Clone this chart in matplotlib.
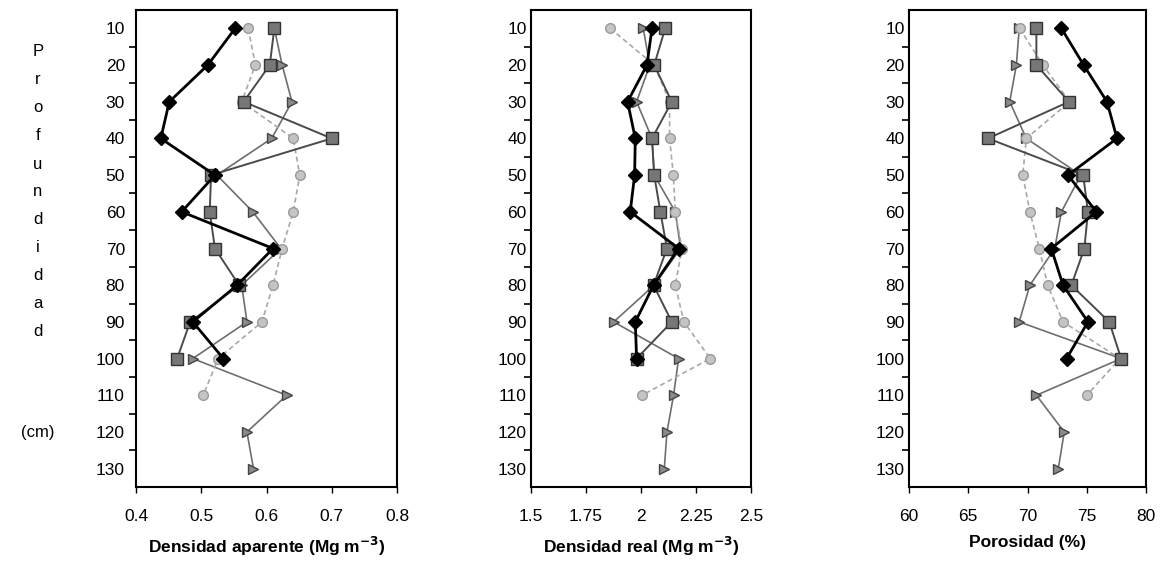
import matplotlib.pyplot as plt

plt.rcParams['font.family'] = ['Liberation Sans', 'DejaVu Sans']

depth = [10, 20, 30, 40, 50, 60, 70, 80, 90, 100, 110, 120, 130]

# Densidad aparente (Mg m-3)
da_diamond = [0.552, 0.510, 0.451, 0.438, 0.521, 0.470, 0.610, 0.555, 0.487, 0.534]
da_square = [0.612, 0.605, 0.565, 0.700, 0.515, 0.513, 0.521, 0.558, 0.483, 0.463]
da_circle = [0.572, 0.583, 0.562, 0.641, 0.651, 0.641, 0.624, 0.610, 0.593, 0.526, 0.503]
da_triangle = [0.612, 0.624, 0.639, 0.608, 0.524, 0.579, 0.622, 0.562, 0.570, 0.487, 0.631, 0.570, 0.580]

# Densidad real (Mg m-3)
dr_diamond = [2.05, 2.027, 1.939, 1.974, 1.971, 1.951, 2.171, 2.057, 1.974, 1.98]
dr_square = [2.11, 2.06, 2.14, 2.05, 2.06, 2.088, 2.118, 2.057, 2.14, 1.98]
dr_circle = [1.86, 2.06, 2.13, 2.13, 2.147, 2.156, 2.186, 2.156, 2.195, 2.315, 2.004]
dr_triangle = [2.01, 2.04, 1.98, 2.05, 2.06, 2.156, 2.18, 2.06, 1.876, 2.171, 2.148, 2.118, 2.106]

# Porosidad (%)
po_diamond = [72.86, 74.74, 76.71, 77.55, 73.42, 75.81, 72.01, 73.0, 75.1, 73.3]
po_square = [70.75, 70.75, 73.5, 66.67, 74.7, 75.1, 74.8, 73.7, 76.9, 77.9]
po_circle = [69.34, 71.3, 73.56, 69.9, 69.6, 70.2, 71.0, 71.7, 73.0, 77.8, 75.0]
po_triangle = [69.3, 69.06, 68.5, 69.9, 74.5, 72.86, 72.3, 70.2, 69.3, 77.9, 70.75, 73.1, 72.6]

panels = [
    (da_diamond, da_square, da_circle, da_triangle, (0.4, 0.8), [0.4, 0.5, 0.6, 0.7, 0.8],
     ['0.4', '0.5', '0.6', '0.7', '0.8'], 'Densidad aparente (Mg m$^{\\mathbf{-3}}$)'),
    (dr_diamond, dr_square, dr_circle, dr_triangle, (1.5, 2.5), [1.5, 1.75, 2.0, 2.25, 2.5],
     ['1.5', '1.75', '2', '2.25', '2.5'], 'Densidad real (Mg m$^{\\mathbf{-3}}$)'),
    (po_diamond, po_square, po_circle, po_triangle, (60, 80), [60, 65, 70, 75, 80],
     ['60', '65', '70', '75', '80'], 'Porosidad (%)'),
]

fig = plt.figure(figsize=(11.65, 5.66), dpi=100)
W, H = 1165, 566
boxes = [(136, 397), (531, 751), (909, 1146)]
ypads = [8, 3, 3]
top, bottom = 10, 487

for (x0, x1), ypad, (dia, sq, cir, tri, xlim, xt, xtl, xlabel) in zip(boxes, ypads, panels):
    ax = fig.add_axes([x0 / W, (H - bottom) / H, (x1 - x0) / W, (bottom - top) / H])
    ax.plot(tri, depth[:len(tri)], color='#6e6e6e', lw=1.2, marker='>', ms=7,
            mfc='#8a8a8a', mec='#444444', zorder=2)
    ax.plot(cir, depth[:len(cir)], color='#a8a8a8', lw=1.2, ls=(0, (3, 2)), marker='o', ms=7,
            mfc='#c4c4c4', mec='#9a9a9a', zorder=3)
    ax.plot(sq, depth[:len(sq)], color='#4a4a4a', lw=1.4, marker='s', ms=8,
            mfc='#777777', mec='#333333', zorder=4)
    ax.plot(dia, depth[:len(dia)], color='black', lw=2.0, marker='D', ms=7,
            mfc='black', mec='black', zorder=5)
    ax.set_xlim(*xlim)
    ax.set_ylim(135, 5)
    ax.set_xticks(xt)
    ax.set_xticklabels(xtl, fontsize=12.5)
    ax.set_yticks(depth)
    ax.set_yticklabels([str(d) for d in depth], fontsize=12.5)
    ax.set_yticks([15 + 10 * i for i in range(12)], minor=True)
    ax.tick_params(axis='y', which='major', length=0, pad=ypad)
    ax.tick_params(axis='y', which='minor', length=5, width=1.2, direction='out')
    ax.tick_params(axis='x', length=4, width=1.0, direction='out', pad=12)
    for s in ax.spines.values():
        s.set_linewidth(1.5)
    ax.set_xlabel(xlabel, fontsize=12.5, fontweight='bold', labelpad=8)

letters = 'Profundidad'
for i, ch in enumerate(letters):
    fig.text(38 / W, 1 - (52 + i * 28) / H, ch, fontsize=12, ha='center', va='center')
fig.text(38 / W, 1 - 432 / H, '(cm)', fontsize=12, ha='center', va='center')

fig.savefig('out.png', dpi=100)
